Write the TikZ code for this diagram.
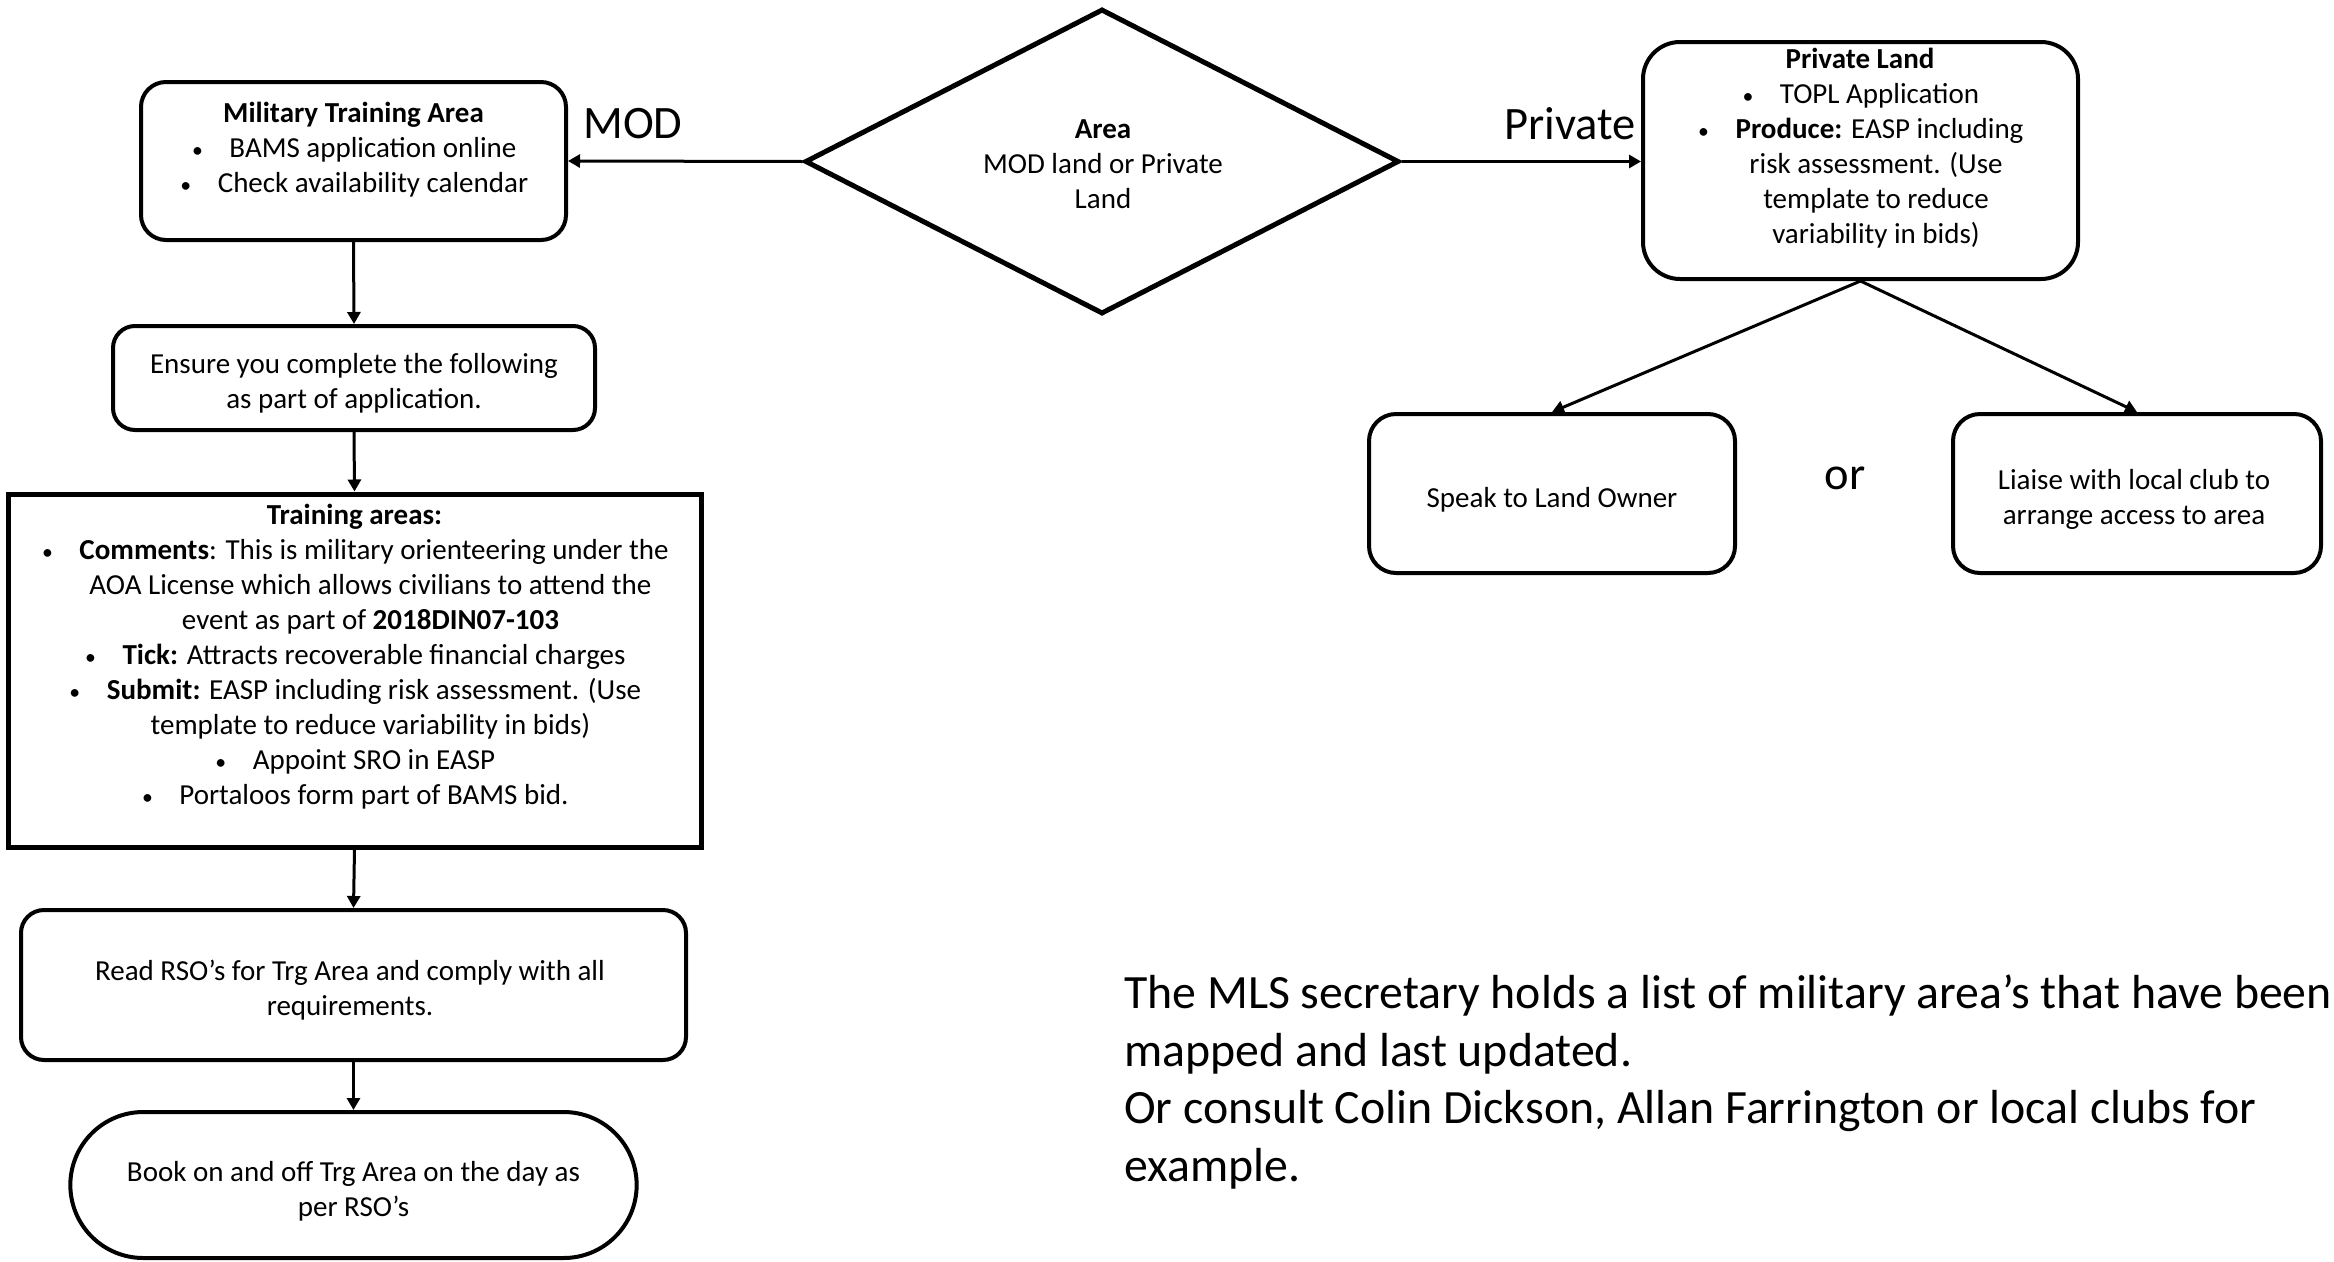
\documentclass[tikz,border=0pt]{standalone}
\usepackage{fontspec}
\setmainfont{Carlito}
\usetikzlibrary{arrows.meta,shapes.geometric,shapes.misc}
\newcommand\bul{\makebox[14pt]{\scalebox{0.75}{\textbullet}}\hspace{25pt}}
\newcommand\ind{\hspace*{32pt}}
\begin{document}
\begin{tikzpicture}[x=1pt,y=-1pt,
    every node/.style={font=\fontsize{29}{35}\selectfont},
    bigtxt/.style={font=\fontsize{46.5}{57.5}\selectfont},
    boxtxt/.style={align=center,inner sep=0pt},
    roundbox/.style={draw,line width=4pt,rounded corners=#1,inner sep=0pt},
    roundbox/.default=25pt,
    flow/.style={-{Triangle[length=12pt,width=13pt]},line width=3pt}]
    \useasboundingbox (0,0) rectangle (2334,1261);
    % decision
    \node[draw,diamond,aspect=1.95,line width=5pt,inner sep=0pt,minimum width=594pt,minimum height=305pt]
        (area) at (1102,161.5) {};
    \node[boxtxt] (areatxt) at (1103,164) {\textbf{Area}\\MOD land or Private\\Land};
    % MOD branch
    \node[roundbox,minimum width=425pt,minimum height=158pt] (mta) at (353.5,161) {};
    \node[boxtxt] (mtatxt) at (353.5,149.5)
        {\textbf{Military Training Area}\\ \bul BAMS application online\\ \bul Check availability calendar};
    \node[roundbox=22pt,minimum width=482pt,minimum height=104pt] (ensure) at (354,378) {};
    \node[boxtxt] (ensuretxt) at (354,383) {Ensure you complete the following\\as part of application.};
    \node[draw,line width=5pt,minimum width=693pt,minimum height=353pt] (train) at (354.5,670.5) {};
    \node[boxtxt] (traintxt) at (354.5,657)
        {\textbf{Training areas:}\\
         \bul\textbf{Comments}: This is military orienteering under the\\
         \ind AOA License which allows civilians to attend the\\
         \ind event as part of \textbf{2018DIN07-103}\\
         \bul\textbf{Tick:} Attracts recoverable financial charges\\
         \bul\textbf{Submit:} EASP including risk assessment. (Use\\
         \ind template to reduce variability in bids)\\
         \bul Appoint SRO in EASP\\
         \bul Portaloos form part of BAMS bid.};
    \node[roundbox=23pt,minimum width=665pt,minimum height=150pt] (rso) at (353.5,985) {};
    \node[boxtxt] (rsotxt) at (350,990) {Read RSO’s for Trg Area and comply with all\\requirements.};
    \node[draw,rounded rectangle,line width=4pt,minimum width=573pt,minimum height=146pt] (book) at (353.5,1185) {};
    \node[boxtxt] (booktxt) at (353.5,1191) {Book on and off Trg Area on the day as\\per RSO’s};
    % private branch
    \node[roundbox=37pt,minimum width=435pt,minimum height=237pt] (priv) at (1860.5,160.5) {};
    \node[boxtxt] (privtxt) at (1860,148.5)
        {\textbf{Private Land}\\ \bul TOPL Application\\ \bul\textbf{Produce:} EASP including\\
         \ind risk assessment. (Use\\ \ind template to reduce\\ \ind variability in bids)};
    \node[roundbox=27pt,minimum width=366pt,minimum height=159pt] (speak) at (1552,493.5) {};
    \node[boxtxt] (speaktxt) at (1552,500) {Speak to Land Owner};
    \node[roundbox=27pt,minimum width=368pt,minimum height=159pt] (liaise) at (2137,493.5) {};
    \node[boxtxt] (liaisetxt) at (2134,499) {Liaise with local club to\\arrange access to area};
    % labels
    \node[bigtxt,anchor=base] (modlbl) at (633,138) {MOD};
    \node[bigtxt,anchor=base] (privlbl) at (1570,139) {Private};
    \node[bigtxt,anchor=base] (orlbl) at (1845,489) {or};
    \node[align=left,anchor=north west,inner sep=0pt,font=\fontsize{47.8}{57.5}\selectfont] (note) at (1124,975)
        {The MLS secretary holds a list of military area’s that have been\\
         mapped and last updated.\\
         Or consult Colin Dickson, Allan Farrington or local clubs for\\
         example.};
    % connectors
    \draw[flow] (area.west) -- (mta.east);
    \draw[flow] (area.east) -- (priv.west |- area.east);
    \draw[flow] (mta.south) -- (ensure.north);
    \draw[flow] (ensure.south) -- (train.north);
    \draw[flow] (train.south) -- (rso.north);
    \draw[flow] (rso.south) -- (book.north);
    \draw[flow] (priv.south) -- (speak.north);
    \draw[flow] (priv.south) -- (liaise.north);
\end{tikzpicture}
\end{document}
